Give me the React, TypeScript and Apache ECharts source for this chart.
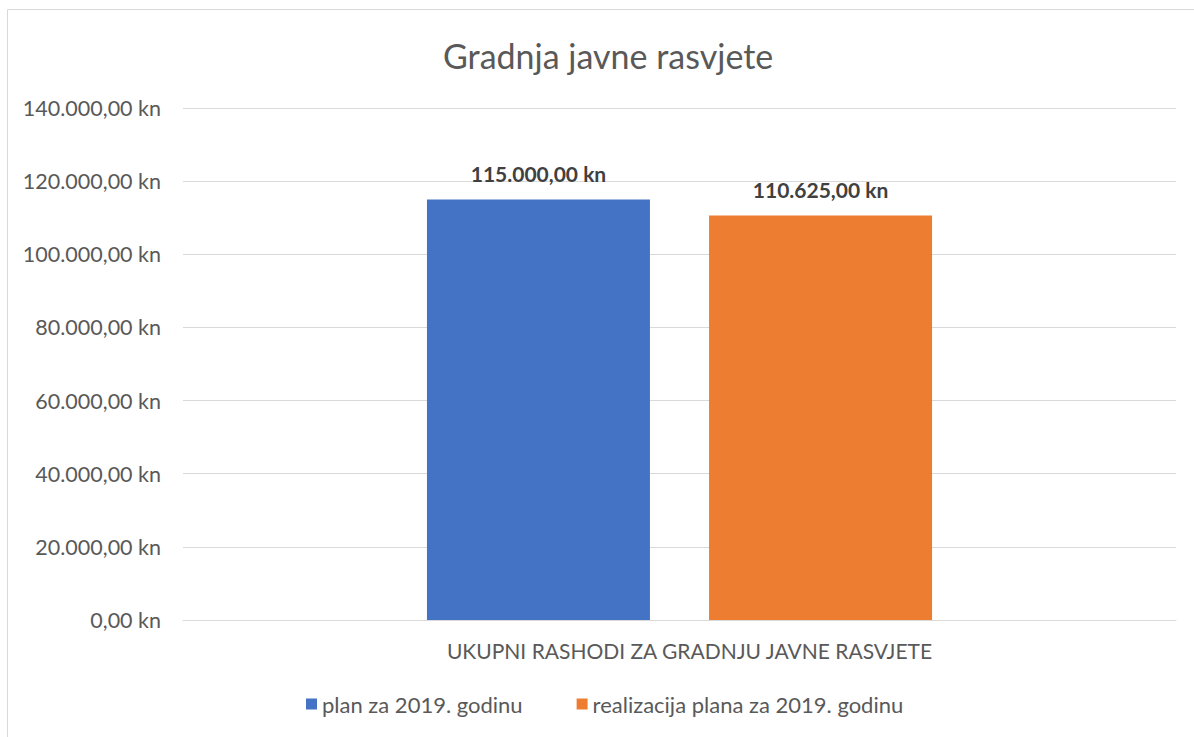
import React, { useEffect, useRef } from "react";
import * as echarts from "echarts";

const categories = ["UKUPNI RASHODI ZA GRADNJU JAVNE RASVJETE"];
const seriesNames = ["plan za 2019. godinu", "realizacija plana za 2019. godinu"];
const planValues = [115000];
const realValues = [110625];
const colors = ["#4472C4", "#ED7D31"];
const yMax = 140000;
const yInterval = 20000;

function fmt(v: number): string {
  const fixed = v.toFixed(2);
  const [intPart, dec] = fixed.split(".");
  const withDots = intPart.replace(/\B(?=(\d{3})+(?!\d))/g, ".");
  return `${withDots},${dec} kn`;
}

const FONT = "Lato";

export default function App() {
  const ref = useRef<HTMLDivElement>(null);
  useEffect(() => {
    document.body.style.margin = "0";
    const chart = echarts.init(ref.current!, null, { renderer: "svg" });
    chart.setOption({
      animation: false,
      textStyle: { fontFamily: FONT },
      graphic: [
        {
          type: "rect",
          shape: { x: 7.5, y: 9.5, width: 1200, height: 800 },
          style: { fill: "none", stroke: "#d9d9d9", lineWidth: 1 },
          silent: true,
        },
      ],
      title: {
        text: "Gradnja javne rasvjete",
        left: 443,
        top: 38,
        padding: 0,
        textStyle: { fontFamily: FONT, fontSize: 34, fontWeight: "normal", color: "#595959" },
      },
      grid: { left: 183, right: 18, top: 108, bottom: 117 },
      legend: {
        top: 688,
        left: 301,
        itemWidth: 11,
        itemHeight: 11,
        itemGap: 54,
        icon: "rect",
        textStyle: { fontFamily: FONT, fontSize: 22, color: "#595959" },
        data: seriesNames,
      },
      xAxis: {
        type: "category",
        data: categories,
        axisLine: { lineStyle: { color: "#d9d9d9" } },
        axisTick: { show: false },
        axisLabel: {
          fontFamily: FONT,
          fontSize: 21,
          color: "#595959",
          margin: 20,
          padding: [0, 0, 0, 20],
        },
      },
      yAxis: {
        type: "value",
        min: 0,
        max: yMax,
        interval: yInterval,
        axisLine: { show: false },
        axisTick: { show: false },
        splitLine: { lineStyle: { color: "#d9d9d9" } },
        axisLabel: {
          fontFamily: FONT,
          fontSize: 21.5,
          color: "#595959",
          margin: 22,
          formatter: (v: number) => fmt(v),
        },
      },
      series: [
        {
          name: seriesNames[0],
          type: "bar",
          data: planValues,
          barWidth: 223,
          barGap: "26.5%",
          itemStyle: { color: colors[0] },
          label: {
            show: true,
            position: "top",
            distance: 15,
            fontFamily: FONT,
            fontSize: 21,
            fontWeight: "bold",
            color: "#404040",
            formatter: (p: any) => fmt(p.value),
          },
        },
        {
          name: seriesNames[1],
          type: "bar",
          data: realValues,
          barWidth: 223,
          barGap: "26.5%",
          itemStyle: { color: colors[1] },
          label: {
            show: true,
            position: "top",
            distance: 15,
            fontFamily: FONT,
            fontSize: 21,
            fontWeight: "bold",
            color: "#404040",
            formatter: (p: any) => fmt(p.value),
          },
        },
      ],
    });
    return () => chart.dispose();
  }, []);
  return <div ref={ref} style={{ width: 1194, height: 737 }} />;
}
